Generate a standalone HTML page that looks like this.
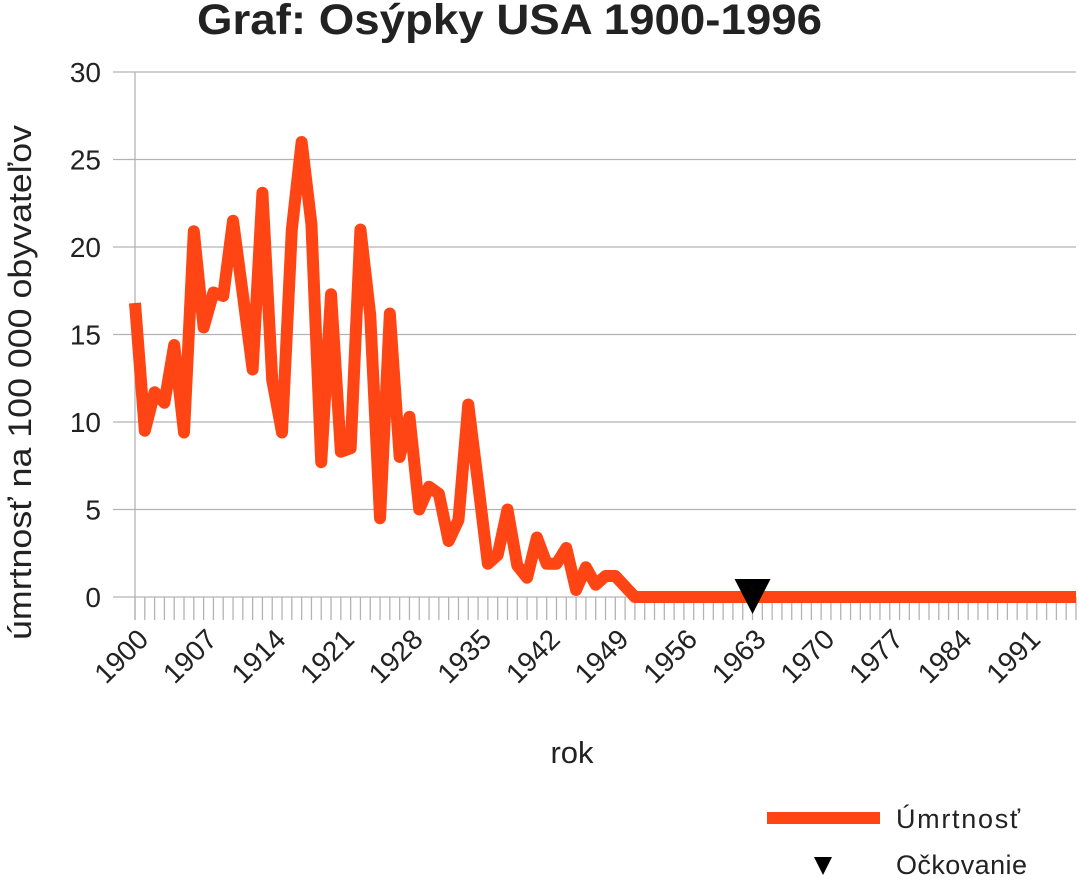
<!DOCTYPE html>
<html><head><meta charset="utf-8"><style>
body{margin:0;background:#fff;width:1079px;height:878px;overflow:hidden;font-family:"Liberation Sans",sans-serif}
</style></head><body>
<svg id="chart" width="1079" height="878" xmlns="http://www.w3.org/2000/svg" font-family="Liberation Sans, sans-serif">
<text x="197" y="34" textLength="625" lengthAdjust="spacingAndGlyphs" font-size="43" font-weight="bold" fill="#222">Graf: Osýpky USA 1900-1996</text>
<text transform="translate(31,640) rotate(-90)" textLength="515" lengthAdjust="spacingAndGlyphs" font-size="32" fill="#222">úmrtnosť na 100 000 obyvateľov</text>
<text x="572" y="763" text-anchor="middle" font-size="31" fill="#222">rok</text>
<g id="grid"></g><g id="ticks"></g><g id="series"></g>
<g>
<line x1="767" y1="818" x2="880" y2="818" stroke="#ff4514" stroke-width="12"/>
<text x="896" y="828" textLength="124" font-size="27" fill="#222">Úmrtnosť</text>
<path d="M814,857 L832,857 L823,875 Z" fill="#000"/>
<text x="896" y="874" textLength="131" font-size="27" fill="#222">Očkovanie</text>
</g>
</svg>
<script>
const years=[];for(let y=1900;y<=1996;y++)years.push(y);
const deaths=[16.8,9.5,11.7,11.1,14.4,9.4,20.9,15.4,17.4,17.2,21.5,17.3,13,23.1,12.4,9.4,21,26,21.3,7.7,17.3,8.3,8.5,21,16.1,4.5,16.2,8,10.3,5,6.3,5.9,3.2,4.4,11,6.5,1.9,2.4,5,1.8,1.1,3.4,1.9,1.9,2.8,0.4,1.7,0.7,1.2,1.2,0.6,0];
while(deaths.length<years.length)deaths.push(0);
const yTicks=[0,5,10,15,20,25,30];
const vaccinationYear=[1963];
const NS="http://www.w3.org/2000/svg";
const x=v=>135+(v-1900)*(941/96);
const y=v=>597-v*17.5;
function mk(t,a,p){const e=document.createElementNS(NS,t);for(const k in a)e.setAttribute(k,a[k]);p.appendChild(e);return e;}
const grid=document.getElementById('grid'),ticks=document.getElementById('ticks'),series=document.getElementById('series');
yTicks.forEach(t=>{
 const l=mk('line',{x1:113,x2:1076,y1:y(t),y2:y(t),stroke:'#b3b3b3','stroke-width':1.3},grid);
 
 
 const tx=mk('text',{x:101,y:y(t)+10,'text-anchor':'end','font-size':28,fill:'#222'},grid);tx.textContent=t;
 
 
});
const ax=mk('line',{x1:135,x2:135,y1:72,y2:620,stroke:'#b3b3b3','stroke-width':1.3},grid);


years.forEach((yr,i)=>{
 const t=mk('line',{x1:x(yr),x2:x(yr),y1:597,y2:620,stroke:'#b3b3b3','stroke-width':1.3},ticks);
 
 
 if(i%7===0&&yr<=1991){
  const tx=mk('text',{transform:`translate(${x(yr)+15},${641}) rotate(-45)`,'text-anchor':'end','font-size':28,fill:'#222'},ticks);tx.textContent=yr;
  
  
 }
});
const pts=years.map((yr,i)=>x(yr)+','+y(deaths[i])).join(' ');
const pl=mk('polyline',{points:pts,fill:'none',stroke:'#ff4514','stroke-width':12,'stroke-linejoin':'round'},series);


vaccinationYear.forEach(v=>{
 const cx=x(v),cy=y(0);
 const m=mk('path',{d:`M${cx-18},${cy-18} L${cx+18},${cy-18} L${cx},${cy+17} Z`,fill:'#000'},series);
 
 
});
</script>
</body></html>
